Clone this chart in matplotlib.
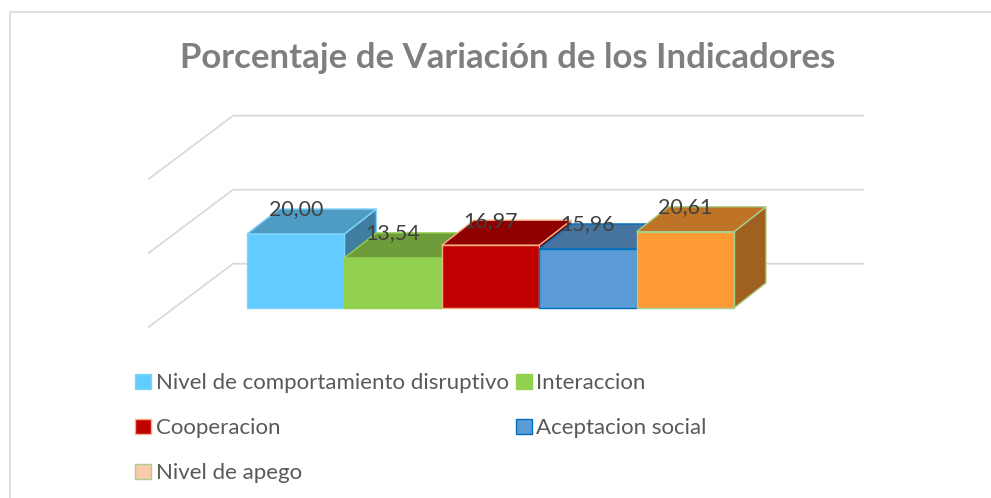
import matplotlib
matplotlib.use("Agg")
import matplotlib.pyplot as plt
from matplotlib.patches import Polygon, Patch

plt.rcParams['font.family'] = ['Lato', 'DejaVu Sans']

title = "Porcentaje de Variación de los Indicadores"
categories = ["Nivel de comportamiento disruptivo", "Interaccion", "Cooperacion",
              "Aceptacion social", "Nivel de apego"]
values = [20.00, 13.54, 16.97, 15.96, 20.61]
labels = ["20,00", "13,54", "16,97", "15,96", "20,61"]
front = ["#63CBFF", "#92D14F", "#C00000", "#5B9BD5", "#FF9933"]
top = ["#4E9CC4", "#6F9C3A", "#900000", "#47739F", "#BF7326"]
side = ["#3F7EA0", "#5A7F30", "#750000", "#3A5E82", "#A06020"]
edge = ["#7FD4FF", "#92D14F", "#F4B183", "#0070C0", "#A9D18E"]
legend_fill = ["#63CBFF", "#92D14F", "#C00000", "#5B9BD5", "#F8CBAD"]
grid_vals = [0, 20, 40]

W, H = 991, 498
fig = plt.figure(figsize=(W / 100, H / 100), dpi=100)
ax = fig.add_axes([0, 0, 1, 1])

# data scale: one category = 97.4 px, one value unit = 3.7 px
PX_X, PX_Y = 97.4, 3.7
X0, Y0 = 247 + 97.4 / 2, 308   # pixel position of category 0 centre / value 0 front base
ax.set_xlim(-X0 / PX_X, (W - X0) / PX_X)
ax.set_ylim(-(H - Y0) / PX_Y, Y0 / PX_Y)
ax.axis("off")

DX, DY = 32 / PX_X, 25 / PX_Y         # bar depth
wall_x0 = (149 - X0) / PX_X
wall_x1 = (233 - X0) / PX_X
wall_x2 = (863 - X0) / PX_X
wall_dy0 = -18.7 / PX_Y
wall_dy1 = 44.3 / PX_Y
GRID = "#D9D9D9"
for g in grid_vals:
    ax.plot([wall_x0, wall_x1, wall_x2],
            [g + wall_dy0, g + wall_dy1, g + wall_dy1],
            color=GRID, lw=1.3, zorder=1, solid_joinstyle="miter")

for i, v in enumerate(values):
    l, r = i - 0.5, i + 0.5
    z = 2 + i
    ax.add_patch(Polygon([(r, 0), (r + DX, DY), (r + DX, v + DY), (r, v)],
                         facecolor=side[i], edgecolor=edge[i], lw=1, zorder=z))
    ax.add_patch(Polygon([(l, v), (l + DX, v + DY), (r + DX, v + DY), (r, v)],
                         facecolor=top[i], edgecolor=edge[i], lw=1, zorder=z))
    ax.bar(i, v, width=1.0, color=front[i], edgecolor=edge[i], lw=1, zorder=z)
for i, v in enumerate(values):
    ax.text(i, v + 24.5 / PX_Y, labels[i], ha="center", va="center",
            fontsize=15.5, color="#404040", zorder=20)

ax.text(508 / W, 1 - 58 / H, title, transform=ax.transAxes, ha="center", va="center",
        fontsize=25, fontweight="bold", color="#7F7F7F")

# outer chart frame: left and top edges only
ax.plot([10 / W, 10 / W, 1], [0, 1 - 12.5 / H, 1 - 12.5 / H],
        transform=ax.transAxes, color="#D9D9D9", lw=1.2, clip_on=False)

handles = [Patch(facecolor=legend_fill[i], edgecolor=edge[i], lw=1) for i in range(5)]
order = [0, 2, 4, 1, 3]
leg = ax.legend([handles[i] for i in order], [categories[i] for i in order], ncol=2,
                loc="upper left", bbox_to_anchor=(131 / W, 1 - 369 / H), frameon=False,
                fontsize=16, labelcolor="#595959", handlelength=0.72, handleheight=0.7,
                handletextpad=0.22, columnspacing=0.28, labelspacing=1.12, borderpad=0.2,
                borderaxespad=0)
fig.savefig("out.png", dpi=100, facecolor="white")
